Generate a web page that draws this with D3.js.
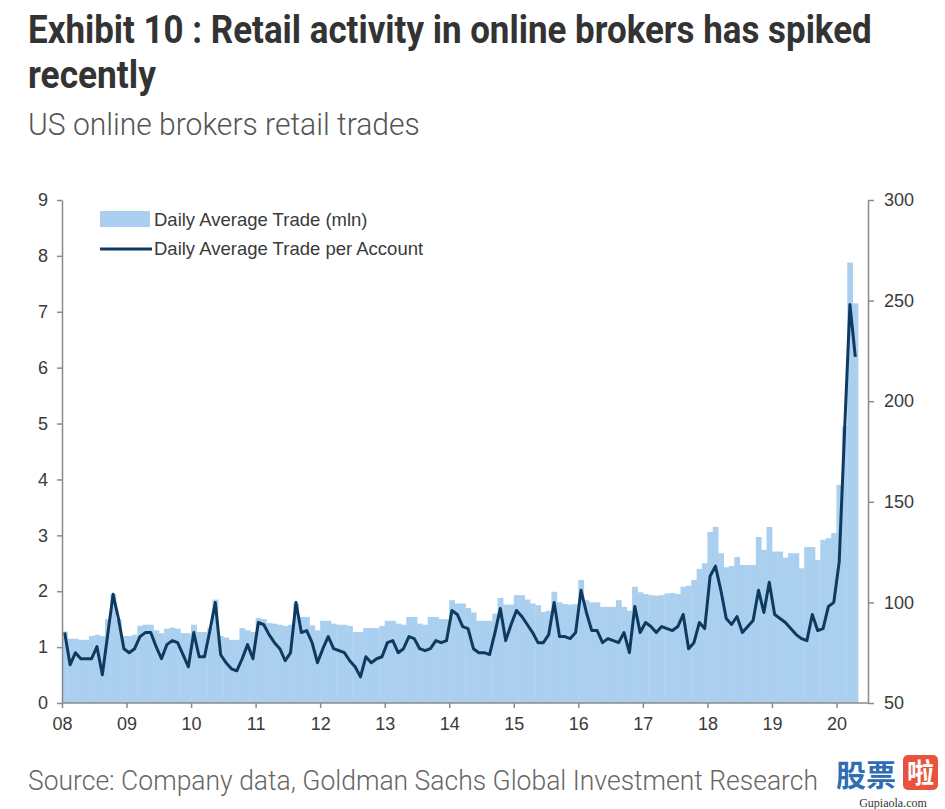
<!DOCTYPE html>
<html>
<head>
  <meta charset="utf-8">
  <script src="https://d3js.org/d3.v7.min.js"></script>
  <style>
    body { margin: 0; background: #fff; }
    svg text { font-family: "Liberation Sans", Arial, sans-serif; }
  </style>
</head>
<body>
<div id="chart"></div>
<script>
  // tick labels for the year axis (one per January)
  const yearLabels = ["08", "09", "10", "11", "12", "13", "14", "15", "16", "17", "18", "19", "20"];

  // Daily Average Trade (mln), monthly Jan 2008 - Apr 2020
  const dailyTrades = [
    1.28, 1.15, 1.15, 1.13, 1.13, 1.2, 1.22, 1.2, 1.5, 1.95, 1.5, 1.2,
    1.2, 1.22, 1.38, 1.4, 1.4, 1.3, 1.25, 1.33, 1.35, 1.33, 1.25, 1.25,
    1.4, 1.27, 1.27, 1.35, 1.85, 1.2, 1.17, 1.13, 1.13, 1.34, 1.3, 1.27,
    1.52, 1.5, 1.43, 1.42, 1.4, 1.38, 1.4, 1.78, 1.54, 1.54, 1.39, 1.3,
    1.47, 1.47, 1.42, 1.4, 1.4, 1.38, 1.27, 1.27, 1.34, 1.34, 1.34, 1.38,
    1.47, 1.47, 1.42, 1.4, 1.54, 1.54, 1.42, 1.4, 1.54, 1.54, 1.5, 1.5,
    1.84, 1.78, 1.78, 1.7, 1.62, 1.47, 1.47, 1.47, 1.6, 1.88, 1.76, 1.76,
    1.93, 1.93, 1.85, 1.78, 1.75, 1.63, 1.65, 1.99, 1.8, 1.77, 1.76, 1.77,
    2.2, 1.84, 1.8, 1.8, 1.72, 1.72, 1.72, 1.84, 1.72, 1.65, 2.08, 1.98,
    1.95, 1.93, 1.92, 1.93, 1.96, 1.97, 1.95, 2.08, 2.1, 2.2, 2.4, 2.5,
    3.06, 3.15, 2.68, 2.43, 2.45, 2.61, 2.47, 2.47, 2.47, 2.97, 2.74, 3.15,
    2.71, 2.71, 2.6, 2.68, 2.68, 2.41, 2.79, 2.79, 2.56, 2.92, 2.95, 3.04,
    3.9, 4.95, 7.88, 7.15
  ];

  // Daily Average Trade per Account (right axis)
  const tradesPerAccount = [
    85, 69, 75, 72, 72, 72, 78, 64, 84, 104, 92, 77,
    75, 77, 83, 85, 85, 78, 72, 79, 81, 80, 74, 68,
    85, 73, 73, 86, 100, 74, 70, 67, 66, 72, 79, 72,
    90, 89, 84, 80, 77, 71, 75, 100, 85, 86, 80, 70,
    77, 83, 77, 76, 75, 71, 68, 63, 73, 70, 72, 73,
    80, 81, 75, 77, 83, 82, 77, 76, 77, 81, 80, 81,
    96, 94, 88, 87, 77, 75, 75, 74, 85, 97, 81, 89,
    96, 93, 89, 85, 80, 80, 84, 100, 83, 83, 82, 85,
    106, 95, 86, 86, 80, 82, 81, 80, 85, 75, 98, 85,
    90, 88, 85, 88, 87, 86, 88, 94, 77, 80, 90, 87,
    113, 118, 106, 92, 89, 93, 85, 88, 91, 106, 95, 110,
    94, 92, 90, 87, 84, 82, 81, 94, 86, 87, 98, 100,
    120, 185, 248, 222
  ];

  const leftTicks = [0, 1, 2, 3, 4, 5, 6, 7, 8, 9];
  const rightTicks = [50, 100, 150, 200, 250, 300];

  const W = 945, H = 809;
  const plot = { left: 62, right: 868, top: 200, bottom: 703, barsEnd: 858 };

  const svg = d3.select("#chart").append("svg")
    .attr("width", W).attr("height", H);

  // squeeze a text horizontally so it spans the given width (condensed look)
  function fitWidth(t, x0, y0, w) {
    const natural = t.node().getComputedTextLength();
    t.attr("x", 0).attr("y", 0)
      .attr("transform", `translate(${x0},${y0}) scale(${w / natural},1)`);
    return t;
  }

  // titles
  fitWidth(svg.append("text")
    .style("font-family", "Roboto, sans-serif")
    .style("font-weight", "bold").style("font-size", "38px").style("fill", "#333")
    .text("Exhibit 10 : Retail activity in online brokers has spiked"), 28, 43, 844);
  fitWidth(svg.append("text")
    .style("font-family", "Roboto, sans-serif")
    .style("font-weight", "bold").style("font-size", "38px").style("fill", "#333")
    .text("recently"), 28, 88, 128);
  fitWidth(svg.append("text")
    .style("font-family", "Roboto, sans-serif")
    .style("font-weight", 300).style("font-size", "31px").style("fill", "#555")
    .text("US online brokers retail trades"), 28, 135, 392);

  const months = d3.range(dailyTrades.length);

  const x = d3.scaleBand().domain(months).range([plot.left, plot.barsEnd]).padding(0);
  const xYear = d3.scaleLinear().domain([0, dailyTrades.length]).range([plot.left, plot.barsEnd]);
  const yL = d3.scaleLinear().domain([0, 9]).range([plot.bottom, plot.top]);
  const yR = d3.scaleLinear().domain([50, 300]).range([plot.bottom, plot.top]);

  // bars
  svg.append("g").selectAll("rect")
    .data(dailyTrades)
    .join("rect")
    .attr("x", (d, i) => x(i))
    .attr("y", d => yL(d))
    .attr("width", x.bandwidth() + 0.4)
    .attr("height", d => yL(0) - yL(d))
    .attr("fill", "#aacfef");

  // line
  const line = d3.line()
    .x((d, i) => x(i) + x.bandwidth() / 2)
    .y(d => yR(d));
  svg.append("path")
    .datum(tradesPerAccount)
    .attr("d", line)
    .attr("fill", "none")
    .attr("stroke", "#0f3a5f")
    .attr("stroke-width", 3)
    .attr("stroke-linejoin", "round");

  // axes
  const axisColor = "#8a8a8a";
  const labelColor = "#3a3a3a";

  const gL = svg.append("g")
    .attr("transform", `translate(${plot.left},0)`)
    .call(d3.axisLeft(yL).tickValues(leftTicks).tickSize(5).tickSizeOuter(0).tickPadding(9));
  const gR = svg.append("g")
    .attr("transform", `translate(${plot.right},0)`)
    .call(d3.axisRight(yR).tickValues(rightTicks).tickSize(6).tickSizeOuter(0).tickPadding(10));
  const gB = svg.append("g")
    .attr("transform", `translate(0,${plot.bottom})`)
    .call(d3.axisBottom(xYear)
      .tickValues(yearLabels.map((d, i) => i * 12))
      .tickFormat((d, i) => yearLabels[i])
      .tickSize(5).tickSizeOuter(0).tickPadding(9));
  gB.select(".domain").remove();
  svg.append("line")
    .attr("x1", plot.left).attr("x2", plot.right)
    .attr("y1", plot.bottom).attr("y2", plot.bottom)
    .attr("stroke", axisColor).attr("stroke-width", 1.5);

  [gL, gR, gB].forEach(g => {
    g.selectAll(".domain").attr("stroke", axisColor).attr("stroke-width", 1.5);
    g.selectAll(".tick line").attr("stroke", axisColor).attr("stroke-width", 1.5);
    g.selectAll(".tick text")
      .style("font-family", "'Liberation Sans', Arial, sans-serif")
      .style("font-size", "18px").attr("fill", labelColor);
  });

  // legend
  const legend = svg.append("g").attr("transform", "translate(100,0)");
  legend.append("rect")
    .attr("x", 0).attr("y", 211).attr("width", 50).attr("height", 16)
    .attr("fill", "#aacfef");
  legend.append("text")
    .attr("x", 54).attr("y", 226)
    .style("font-size", "18.5px").attr("fill", labelColor)
    .text("Daily Average Trade (mln)");
  legend.append("line")
    .attr("x1", 0).attr("x2", 52).attr("y1", 249).attr("y2", 249)
    .attr("stroke", "#0f3a5f").attr("stroke-width", 3);
  legend.append("text")
    .attr("x", 54).attr("y", 255)
    .style("font-size", "18.5px").attr("fill", labelColor)
    .text("Daily Average Trade per Account");

  // source
  fitWidth(svg.append("text")
    .style("font-family", "Roboto, sans-serif")
    .style("font-weight", 300).style("font-size", "28px").style("fill", "#666")
    .text("Source: Company data, Goldman Sachs Global Investment Research"), 28, 790, 790);

  // watermark
  const wm = svg.append("g");
  wm.append("text")
    .attr("x", 836).attr("y", 786)
    .style("font-family", "'Noto Sans CJK SC', sans-serif")
    .style("font-weight", "bold").style("font-size", "30px").style("fill", "#2f6db5")
    .text("股票");
  wm.append("rect")
    .attr("x", 903).attr("y", 755).attr("width", 35).attr("height", 35).attr("rx", 5)
    .attr("fill", "#e8533f");
  wm.append("text")
    .attr("x", 920.5).attr("y", 783).attr("text-anchor", "middle")
    .style("font-family", "'Noto Sans CJK SC', sans-serif")
    .style("font-weight", "bold").style("font-size", "27px").style("fill", "#fff")
    .text("啦");
  wm.append("text")
    .attr("x", 893).attr("y", 807).attr("text-anchor", "middle")
    .style("font-family", "'Liberation Serif', serif")
    .style("font-size", "12px").style("fill", "#333")
    .text("Gupiaola.com");
</script>
</body>
</html>
